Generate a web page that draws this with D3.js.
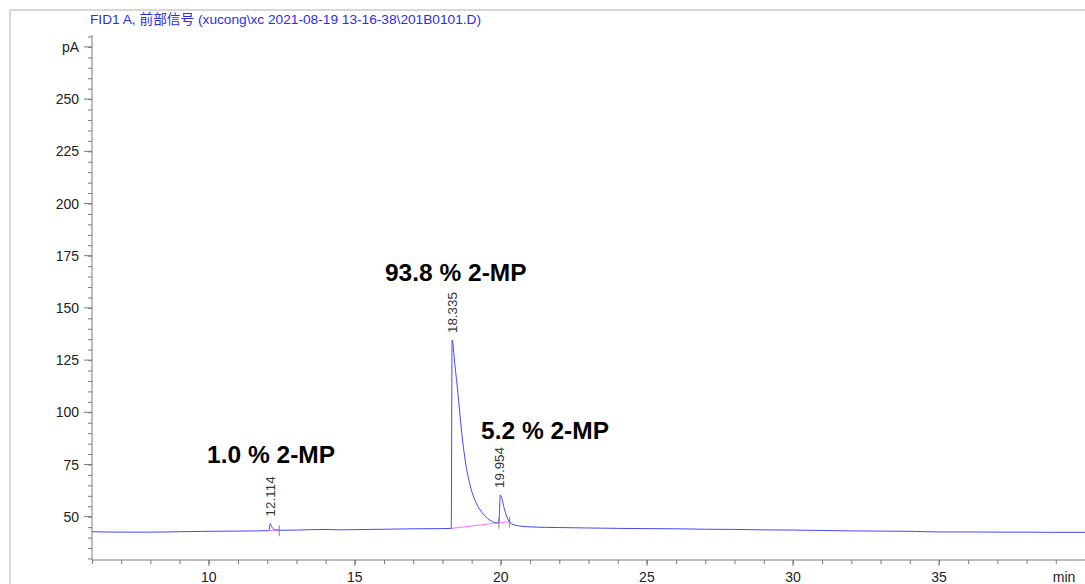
<!DOCTYPE html>
<html>
<head>
<meta charset="utf-8">
<script src="https://cdn.jsdelivr.net/npm/d3@7"></script>
<style>
  html, body { margin: 0; padding: 0; background: #fff; }
  svg { display: block; }
</style>
</head>
<body>
<svg id="chart" width="1085" height="584"></svg>
<script>
// FID1 A chromatogram trace: retention time (min) and detector signal (pA)
const timeMin = [6.0, 7.0, 8.0, 9.0, 10.0, 11.0, 12.0, 12.06, 12.10, 12.16, 12.22, 12.3, 12.5, 13.0, 14.0, 14.5,
  15.0, 16.0, 17.0, 18.0, 18.30, 18.33, 18.42, 18.54, 18.65, 18.76, 18.93, 19.16, 19.38, 19.72, 19.85, 19.93,
  19.98, 20.13, 20.25, 20.47, 20.9, 21.5, 22, 23, 24, 25, 26, 27, 28, 29, 30, 31, 32, 33, 34, 35, 36, 37, 38, 39, 40];
const signalPA = [42.8, 42.6, 42.6, 42.8, 43.0, 43.1, 43.3, 43.4, 46.8, 45.0, 44.0, 43.7, 43.5, 43.6, 43.9, 43.7,
  43.8, 44.0, 44.2, 44.3, 44.4, 134.6, 123.5, 107.5, 91.5, 78.7, 66.0, 56.4, 51.6, 47.6, 47.0, 47.3,
  60.4, 53.2, 48.4, 46.0, 45.2, 44.9, 44.8, 44.6, 44.4, 44.3, 44.2, 44.0, 43.9, 43.7, 43.6, 43.4, 43.2, 43.1, 43.0, 42.7, 42.7, 42.6, 42.6, 42.5, 42.5];

// Integrated peaks: retention time, apex signal, integration start/end (min, pA)
const peakRT = [12.114, 18.335, 19.954];
const peakApex = [46.8, 134.6, 60.4];
const peakStart = [[12.06, 43.4], [18.31, 44.4], [19.93, 47.1]];
const peakEnd = [[12.41, 43.5], [19.93, 47.1], [20.30, 47.6]];

// Area-percent annotations, anchored at (min, pA)
const noteText = ["1.0 % 2-MP", "93.8 % 2-MP", "5.2 % 2-MP"];
const noteAnchor = [[9.94, 75.9], [16.03, 162.9], [19.32, 87.2]];

const xTicks = [10, 15, 20, 25, 30, 35];
const yTicks = [50, 75, 100, 125, 150, 175, 200, 225, 250];
const yUnitTick = 275;
const titleText = "FID1 A, 前部信号 (xucong\\xc 2021-08-19 13-16-38\\201B0101.D)";

const svg = d3.select("#chart");
const W = 1085, H = 584;
const x = d3.scaleLinear().domain([6, 40]).range([92, 1085]);
const y = d3.scaleLinear().domain([29.26, 280.7]).range([560, 35]);

const axisColor = "#7a7a7a";
const labelColor = "#222";
const font = "'Liberation Sans', Arial, Helvetica, sans-serif";

// outer frame
svg.append("path").attr("d", `M10,${H} V10 H${W}`)
  .attr("fill", "none").attr("stroke", "#b0b0b0").attr("stroke-width", 1);

// title
svg.append("text").attr("x", 90).attr("y", 24)
  .attr("font-family", "'Liberation Sans', Arial, 'Noto Sans CJK SC', sans-serif")
  .attr("font-size", 13.7).attr("fill", "#2b2bf0").text(titleText);

// x axis
const gx = svg.append("g").attr("transform", `translate(0,${y.range()[0]})`);
gx.call(d3.axisBottom(x).tickValues(d3.range(6, 40, 1)).tickSize(4).tickFormat(""));
gx.call(g => g.select(".domain").remove());
gx.append("line").attr("x1", x.range()[0]).attr("x2", x.range()[1]).attr("stroke", axisColor);
xTicks.forEach(t => {
  gx.append("line").attr("x1", x(t)).attr("x2", x(t)).attr("y1", 0).attr("y2", 6).attr("stroke", axisColor);
  gx.append("text").attr("x", x(t)).attr("y", 21.5).attr("text-anchor", "middle")
    .attr("font-family", font).attr("font-size", 14).attr("fill", labelColor).text(t);
});
gx.append("text").attr("x", 1064).attr("y", 21.5)
  .attr("font-family", font).attr("font-size", 14).attr("fill", labelColor).text("min");
gx.selectAll(".tick line").attr("stroke", axisColor);

// y axis
const gy = svg.append("g").attr("transform", `translate(${x.range()[0]},0)`);
gy.call(d3.axisLeft(y).tickValues(d3.range(30, 281, 5)).tickSize(4).tickFormat(""));
gy.call(g => g.select(".domain").remove());
gy.append("line").attr("y1", y.range()[0]).attr("y2", y.range()[1]).attr("stroke", axisColor);
gy.selectAll(".tick line").attr("stroke", axisColor);
yTicks.concat([yUnitTick]).forEach(t => {
  gy.append("line").attr("x1", -8).attr("x2", 0).attr("y1", y(t)).attr("y2", y(t)).attr("stroke", axisColor);
  gy.append("text").attr("x", -13).attr("y", y(t)).attr("dy", "0.36em").attr("text-anchor", "end")
    .attr("font-family", font).attr("font-size", 14).attr("fill", labelColor)
    .text(t === yUnitTick ? "pA" : t);
});

// integration baselines
const pink = "#ff80ff";
peakStart.forEach((s, i) => {
  const e = peakEnd[i];
  svg.append("line").attr("x1", x(s[0])).attr("y1", y(s[1])).attr("x2", x(e[0])).attr("y2", y(e[1]))
    .attr("stroke", pink).attr("stroke-width", 1.2);
});

// signal trace
const line = d3.line().x(d => x(d[0])).y(d => y(d[1])).curve(d3.curveMonotoneX);
svg.append("path").datum(timeMin.map((t, i) => [t, signalPA[i]]))
  .attr("d", line).attr("fill", "none").attr("stroke", "#4646ff").attr("stroke-width", 1);

// integration event marks
const marks = [peakEnd[0], peakStart[2], peakEnd[2]];
marks.forEach(m => {
  svg.append("line").attr("x1", x(m[0])).attr("x2", x(m[0]))
    .attr("y1", y(m[1]) - 5).attr("y2", y(m[1]) + 6)
    .attr("stroke", "#666").attr("stroke-width", 0.8);
});

// retention time labels
peakRT.forEach((rt, i) => {
  const px = x(rt), py = y(peakApex[i]) - 7;
  svg.append("text").attr("transform", `translate(${px + 4.5},${py}) rotate(-90)`)
    .attr("font-family", font).attr("font-size", 13.4).attr("fill", "#333").text(rt.toFixed(3));
});

// area-percent annotations
noteText.forEach((s, i) => {
  svg.append("text").attr("x", x(noteAnchor[i][0])).attr("y", y(noteAnchor[i][1]))
    .attr("font-family", font).attr("font-weight", "bold").attr("font-size", 24.5)
    .attr("fill", "#000").text(s);
});
</script>
</body>
</html>
